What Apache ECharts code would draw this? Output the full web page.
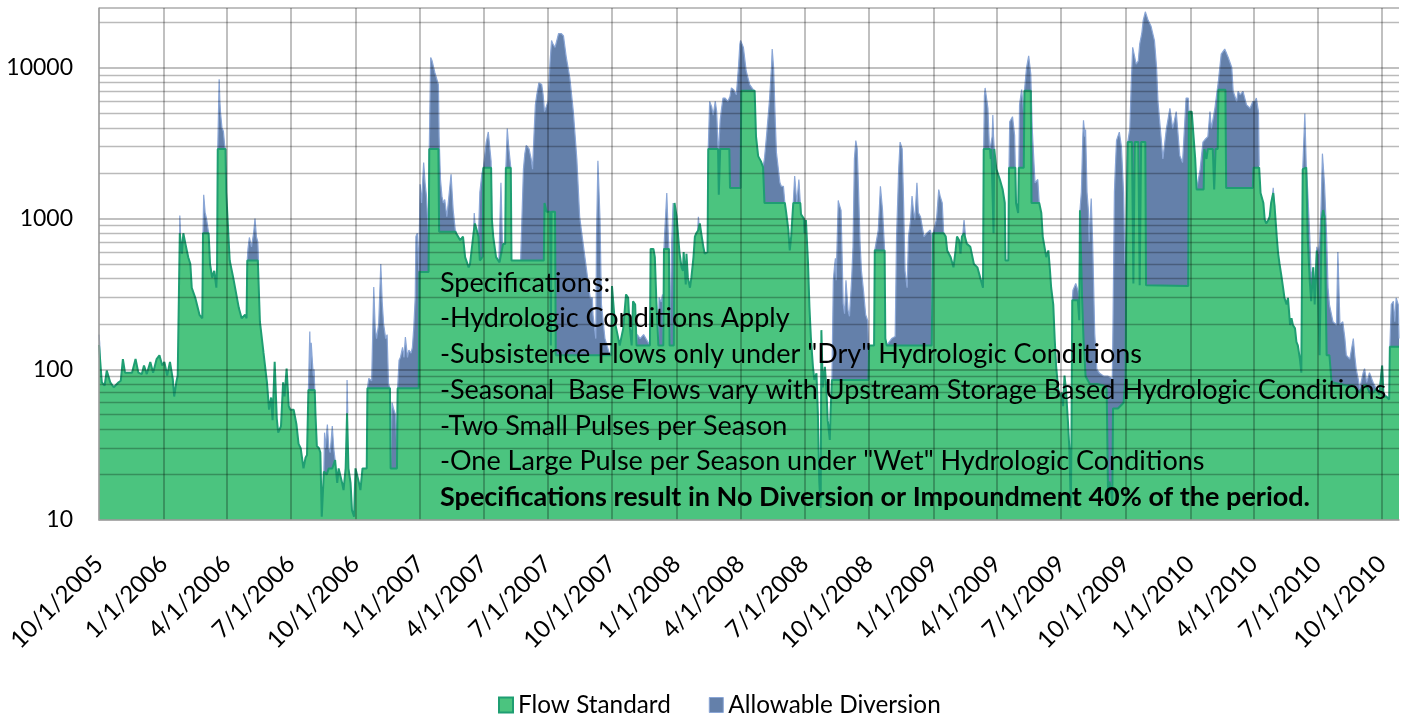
<!DOCTYPE html>
<html>
<head>
<meta charset="utf-8">
<title>Flow Standard and Allowable Diversion</title>
<script src="https://cdn.jsdelivr.net/npm/echarts/dist/echarts.min.js"></script>
<style>
  html, body { margin: 0; padding: 0; background: #fff; }
  #chart { width: 1407px; height: 717px; }
</style>
</head>
<body>
<div id="chart"></div>
<script>
// daily categories from 10/1/2005, values are [dayOffset, cfs]
const startDate = Date.UTC(2005, 9, 1);
const dayCount = 1851;

const tickLabels = ['10/1/2005', '1/1/2006', '4/1/2006', '7/1/2006', '10/1/2006', '1/1/2007', '4/1/2007',
  '7/1/2007', '10/1/2007', '1/1/2008', '4/1/2008', '7/1/2008', '10/1/2008', '1/1/2009', '4/1/2009',
  '7/1/2009', '10/1/2009', '1/1/2010', '4/1/2010', '7/1/2010', '10/1/2010'];
const yTickLabels = [10, 100, 1000, 10000];
const minorGridValues = [20, 30, 40, 50, 60, 70, 80, 90, 200, 300, 400, 500, 600, 700, 800, 900,
  2000, 3000, 4000, 5000, 6000, 7000, 8000, 9000, 20000];

const flowStandard = [
  [0,145],[4,82],[8,78],[11,98],[16,82],[21,76],[28,82],[31,84],[34,117],[37,95],[47,95],[52,117],[56,95],
  [61,93],[64,106],[68,93],[73,112],[77,95],[82,117],[86,124],[90,106],[93,112],[97,91],[101,112],[105,86],
  [107,66],[110,82],[112,91],[114,91],[115,800],[118,585],[120,800],[123,680],[127,555],[130,500],[132,348],
  [137,298],[143,230],[147,218],[148,800],[156,800],[158,500],[161,406],[164,451],[167,348],[168,475],
  [169,2900],[180,2900],[181,1500],[186,527],[191,406],[199,255],[203,218],[208,230],[210,218],[211,527],
  [226,527],[229,207],[234,130],[239,82],[242,54],[245,65],[247,46],[250,112],[253,47],[255,38],[259,42],
  [262,82],[264,66],[267,101],[270,57],[272,54],[277,54],[281,43],[284,32],[287,30],[291,22],[294,26],
  [296,27],[298,73],[307,73],[308,51],[310,31],[313,30],[315,28],[317,10.5],[320,21],[322,21],[324,20],
  [327,22],[332,22],[336,25],[339,17.6],[341,22],[343,22],[346,17.6],[348,15.8],[351,22],[353,51],[355,22],
  [358,17.6],[360,11.6],[363,10.5],[365,22],[367,22],[370,17.6],[372,15.8],[375,22],[381,22],[382,75],
  [414,75],[415,22],[424,22],[425,75],[455,75],[456,443],[469,443],[470,2900],[483,2900],[484,820],
  [507,820],[509,800],[514,720],[518,760],[521,555],[526,475],[528,500],[533,800],[535,930],[540,760],
  [542,527],[546,560],[547,2180],[558,2180],[559,1000],[561,760],[565,555],[570,513],[575,680],[578,680],
  [579,2180],[586,2180],[587,527],[633,527],[634,1270],[637,1110],[642,1110],[643,144],[644,1110],
  [649,1110],[650,124],[729,124],[730,357],[734,207],[737,178],[741,144],[746,187],[750,314],[753,298],
  [755,197],[758,144],[760,283],[763,269],[765,144],[784,144],[785,630],[789,630],[791,555],[793,298],
  [796,144],[803,144],[804,630],[811,630],[812,144],[818,144],[819,1270],[822,1030],[826,600],[829,475],
  [831,451],[832,600],[835,366],[836,585],[838,406],[841,348],[843,406],[846,555],[848,760],[850,800],
  [853,840],[855,930],[857,800],[860,650],[862,585],[866,600],[867,2900],[881,2900],[882,1440],[884,2900],
  [897,2900],[898,1600],[913,1600],[914,7070],[933,7070],[935,3500],[938,2600],[942,2400],[945,2200],
  [947,1270],[976,1270],[978,1090],[981,840],[983,615],[985,760],[988,1270],[998,1270],[999,1070],
  [1003,1000],[1004,800],[1006,980],[1009,506],[1011,260],[1013,164],[1016,104],[1018,85],[1021,94],
  [1023,51],[1025,18],[1027,12],[1028,182],[1030,76],[1033,104],[1035,76],[1037,46],[1040,34],[1041,51],
  [1043,85],[1095,85],[1096,144],[1103,144],[1104,617],[1111,615],[1118,615],[1119,160],[1121,144],
  [1185,144],[1187,800],[1202,800],[1205,760],[1207,615],[1212,555],[1216,475],[1219,615],[1221,760],
  [1224,720],[1226,585],[1228,760],[1231,800],[1235,680],[1240,650],[1245,500],[1250,475],[1254,406],
  [1258,348],[1259,2900],[1268,2900],[1269,2490],[1270,2900],[1272,2900],[1273,800],[1274,2900],
  [1276,2900],[1277,2130],[1279,2130],[1282,1820],[1286,1560],[1289,1270],[1290,527],[1294,527],
  [1295,2180],[1304,2180],[1305,1270],[1308,1090],[1309,2180],[1316,2180],[1317,7070],[1326,7070],
  [1327,1270],[1338,1270],[1341,1090],[1343,760],[1346,630],[1348,555],[1351,615],[1353,475],[1355,348],
  [1358,269],[1360,160],[1362,106],[1365,74],[1367,66],[1370,70],[1372,57],[1374,91],[1376,74],[1379,44],
  [1381,29],[1383,12],[1384,40],[1385,287],[1393,287],[1395,212],[1396,1135],[1398,1135],[1399,300],
  [1401,160],[1404,90],[1410,80],[1420,80],[1430,78],[1434,74],[1436,14],[1438,18],[1440,16],[1442,13],
  [1443,55],[1450,55],[1458,60],[1461,90],[1462,718],[1464,3220],[1470,3220],[1472,371],[1474,3220],
  [1479,3220],[1481,361],[1483,3220],[1489,3220],[1490,361],[1550,357],[1551,5130],[1555,5130],
  [1560,2490],[1562,1560],[1572,1560],[1573,2900],[1576,2490],[1578,2900],[1585,2900],[1587,1560],
  [1589,2900],[1592,2900],[1593,7180],[1603,7180],[1604,1600],[1642,1600],[1643,2180],[1651,2180],
  [1653,1480],[1657,1270],[1659,980],[1661,930],[1664,980],[1666,1030],[1668,1270],[1671,1480],
  [1673,1200],[1676,760],[1678,585],[1680,500],[1683,406],[1685,348],[1687,298],[1690,269],[1692,298],
  [1695,197],[1697,218],[1699,197],[1702,187],[1704,152],[1706,144],[1709,117],[1711,95],[1713,2130],
  [1718,2180],[1720,760],[1723,386],[1725,283],[1728,475],[1730,269],[1733,615],[1735,298],[1737,124],
  [1740,980],[1742,1140],[1744,1030],[1747,124],[1751,124],[1754,82],[1756,80],[1766,80],[1775,78],
  [1785,78],[1794,70],[1799,78],[1804,78],[1808,70],[1813,70],[1818,74],[1822,68],[1826,106],[1828,66],
  [1832,66],[1836,63],[1837,141],[1850,141]
];

// top of the stacked "Allowable Diversion" band; null breaks where it equals the flow standard
const diversionTop = [
  [0,170],[1,150],[2,100],[4,82],[5,null],
  [114,91],[115,1050],[116,800],[117,null],
  [148,800],[149,1440],[151,1100],[153,1000],[156,800],[157,null],
  [169,2900],[170,5000],[171,8400],[172,6000],[173,5000],[175,4000],[177,3800],[179,3000],[180,2900],[181,null],
  [211,527],[212,630],[214,750],[217,650],[220,800],[222,1000],[224,760],[226,700],[227,527],[228,null],
  [298,73],[300,178],[301,100],[302,150],[304,106],[305,90],[306,100],[307,73],[308,null],
  [320,21],[321,38],[322,30],[325,43],[327,30],[329,28],[332,42],[334,30],[336,25],[337,null],
  [352,22],[353,85],[354,51],[355,null],
  [382,75],[384,87],[388,84],[391,352],[393,190],[395,160],[398,200],[401,500],[403,280],[405,200],
  [408,160],[410,170],[412,80],[414,75],[415,22],[417,60],[419,55],[422,50],[424,30],
  [425,75],[427,115],[429,120],[432,140],[434,120],[436,164],[439,120],[441,134],[444,128],[446,140],
  [448,191],[450,300],[451,760],[453,800],[455,451],[456,443],[457,1690],[459,1270],[462,2360],[464,1730],
  [466,1410],[469,760],[470,2900],[472,11740],[474,11150],[478,9300],[483,7760],[484,3500],[486,1800],
  [488,1410],[490,1270],[492,1340],[495,1030],[497,1270],[501,1970],[504,1140],[507,840],[509,800],[510,null],
  [533,800],[534,1090],[535,930],[536,null],
  [540,760],[542,1500],[545,2000],[547,2180],[551,3200],[554,3760],[556,3000],[558,2400],[559,1000],[560,null],
  [569,513],[572,1730],[574,700],[575,680],[576,null],
  [579,2180],[581,3960],[583,3000],[586,2180],[587,null],
  [600,527],[604,2130],[606,2700],[608,3060],[612,2900],[615,2490],[617,2130],[619,3570],[621,5690],
  [623,6640],[626,7960],[628,8170],[630,7760],[632,6640],[634,5130],[636,5130],[639,6000],[642,11150],
  [644,15200],[646,14400],[649,13700],[654,16900],[656,17300],[658,16900],[661,16300],[665,11740],
  [670,8610],[675,5130],[680,2490],[684,1030],[689,680],[694,451],[699,298],[702,298],[703,230],[707,160],
  [708,760],[710,2420],[713,980],[715,269],[720,160],[727,124],[729,124],[730,null],
  [765,144],[766,170],[770,160],[775,170],[780,155],[784,144],[785,null],
  [796,144],[797,300],[800,280],[802,314],[803,144],[804,630],[805,800],[808,1480],[810,800],[811,630],
  [812,144],[815,700],[817,1270],[818,144],[819,null],
  [852,840],[853,1030],[854,900],[855,null],
  [867,2900],[869,5990],[872,5500],[874,4870],[877,6000],[879,5130],[881,2900],[882,3000],[884,4500],
  [886,5400],[888,6300],[891,6310],[895,5990],[898,6500],[900,7370],[903,7180],[907,6640],[910,10060],
  [912,14400],[913,15200],[917,13700],[921,9550],[926,7760],[931,7180],[933,7070],[934,null],
  [945,2200],[947,2500],[950,3570],[954,5990],[957,10060],[958,13350],[960,10060],[962,5000],[964,2760],
  [969,1730],[971,1640],[974,1640],[976,1270],[977,null],
  [988,1270],[990,1920],[992,1920],[993,1270],[996,1820],[998,1270],[999,null],
  [1043,85],[1045,390],[1047,500],[1048,546],[1049,390],[1052,1320],[1053,1260],[1056,1135],[1059,274],
  [1061,234],[1063,390],[1066,245],[1068,225],[1071,390],[1073,648],[1075,2500],[1077,3300],[1079,2900],
  [1081,1500],[1083,700],[1085,450],[1088,330],[1091,230],[1094,210],[1095,144],[1096,null],
  [1104,617],[1106,700],[1109,840],[1112,1640],[1115,1140],[1118,615],[1119,null],
  [1121,144],[1128,160],[1133,165],[1135,760],[1138,2130],[1140,3220],[1143,2900],[1145,1270],[1147,451],
  [1150,348],[1152,760],[1155,980],[1157,1410],[1159,1140],[1161,980],[1164,1730],[1166,1100],[1169,1030],
  [1174,760],[1178,800],[1183,840],[1185,760],[1186,null],
  [1187,800],[1192,1000],[1195,1560],[1197,1410],[1200,1270],[1202,800],[1203,null],
  [1229,760],[1231,980],[1233,780],[1234,null],
  [1259,2900],[1260,6500],[1261,7370],[1263,6310],[1265,5400],[1267,3060],[1268,2900],[1271,3500],
  [1272,4870],[1273,3500],[1274,2900],[1275,null],
  [1295,2180],[1296,4390],[1300,4750],[1303,3570],[1304,2180],[1305,null],
  [1309,2180],[1310,5690],[1313,7180],[1316,5000],[1317,7070],[1320,10060],[1323,12050],[1326,9070],
  [1328,4000],[1332,1730],[1336,1820],[1338,1270],[1339,null],
  [1385,287],[1386,335],[1390,371],[1393,335],[1395,300],[1396,1135],[1398,1500],[1400,3500],[1401,4490],
  [1403,3500],[1404,3900],[1406,1500],[1408,1135],[1409,700],[1411,1100],[1412,1360],[1414,700],[1417,173],
  [1420,100],[1424,94],[1430,90],[1436,90],[1440,88],[1442,85],[1443,200],[1445,1500],[1446,2000],
  [1448,3300],[1452,3750],[1455,3000],[1458,1500],[1460,500],[1462,718],[1464,3220],[1467,3960],
  [1469,8000],[1471,13700],[1474,11740],[1476,10590],[1479,11150],[1481,14400],[1484,17000],[1486,20700],
  [1489,23600],[1493,20700],[1497,19000],[1502,15200],[1505,10060],[1507,5990],[1512,3220],[1514,2490],
  [1519,3960],[1524,5400],[1528,3960],[1533,5130],[1538,2620],[1542,2360],[1547,6310],[1550,6310],
  [1551,5130],[1552,null],
  [1562,1560],[1567,2130],[1571,3220],[1575,3390],[1578,3500],[1581,5130],[1583,3960],[1588,5400],
  [1593,8170],[1597,12360],[1602,13350],[1607,11740],[1612,10060],[1614,7000],[1619,5990],[1621,7000],
  [1624,6640],[1628,7000],[1633,5690],[1638,5400],[1642,5990],[1645,5990],[1647,6310],[1650,5130],
  [1651,2240],[1652,null],
  [1669,1270],[1671,1600],[1673,1200],[1674,null],
  [1713,2130],[1716,4990],[1718,2240],[1720,1560],[1723,760],[1725,406],[1728,475],[1730,300],[1733,650],
  [1735,585],[1737,700],[1739,1140],[1741,2700],[1744,1690],[1747,760],[1749,348],[1751,269],[1756,207],
  [1761,197],[1763,600],[1766,197],[1770,207],[1773,160],[1775,124],[1780,117],[1785,160],[1787,124],
  [1789,101],[1792,86],[1794,74],[1799,95],[1801,101],[1804,82],[1808,95],[1813,82],[1818,74],[1822,70],
  [1826,106],[1828,70],[1832,66],[1836,63],[1837,null],
  [1837,141],[1839,269],[1842,283],[1844,207],[1846,298],[1849,269],[1850,160]
];

const noteLines = [
  'Specifications:',
  '-Hydrologic Conditions Apply',
  '-Subsistence Flows only under "Dry" Hydrologic Conditions',
  '-Seasonal  Base Flows vary with Upstream Storage Based Hydrologic Conditions',
  '-Two Small Pulses per Season',
  '-One Large Pulse per Season under "Wet" Hydrologic Conditions',
  'Specifications result in No Diversion or Impoundment 40% of the period.'
];

const categories = [];
for (let i = 0; i < dayCount; i++) {
  const d = new Date(startDate + i * 86400000);
  categories.push((d.getUTCMonth() + 1) + '/' + d.getUTCDate() + '/' + d.getUTCFullYear());
}
const tickSet = new Set(tickLabels);
const isTick = (idx, val) => tickSet.has(val);

const FONT = 'Lato';
const green = '#4bc47f';
const greenLine = '#1f9e72';
const blue = '#6480aa';
const blueLine = '#8aa6d6';
const gridColor = 'rgba(0,0,0,0.33)';

const chart = echarts.init(document.getElementById('chart'));
chart.setOption({
  animation: false,
  grid: { left: 99, right: 8, top: 8, bottom: 197, outerBoundsMode: 'none' },
  legend: {
    top: 688, left: 493, icon: 'rect', itemWidth: 14, itemHeight: 15, itemGap: 38,
    textStyle: { fontFamily: FONT, fontSize: 24.3, color: '#000' },
    data: [
      { name: 'Flow Standard', itemStyle: { color: green, borderColor: greenLine, borderWidth: 2 } },
      { name: 'Allowable Diversion', itemStyle: { color: blue, borderColor: blueLine, borderWidth: 1 } }
    ]
  },
  xAxis: {
    type: 'category', data: categories, boundaryGap: false, z: 10,
    axisLine: { lineStyle: { color: '#a6a6a6', width: 1.5 } },
    axisTick: { show: false },
    axisLabel: {
      interval: isTick, rotate: 45, margin: 40,
      fontFamily: FONT, fontSize: 24, color: '#000'
    },
    splitLine: { show: true, interval: isTick, lineStyle: { color: gridColor, width: 1.5 } }
  },
  yAxis: {
    type: 'log', logBase: 10, min: 10, max: 25000, z: 10,
    axisLine: { show: true, lineStyle: { color: '#a6a6a6', width: 1.5 } },
    axisTick: { show: false },
    axisLabel: {
      margin: 26, fontFamily: FONT, fontSize: 23, color: '#000',
      formatter: v => {
        const r = Math.round(v);
        return yTickLabels.includes(r) ? String(r) : '';
      }
    },
    splitLine: { show: true, lineStyle: { color: gridColor, width: 1.5 } }
  },
  series: [
    {
      name: 'Allowable Diversion', type: 'line', data: diversionTop, symbol: 'none',
      connectNulls: false, silent: true, z: 2,
      itemStyle: { color: blue },
      lineStyle: { color: blueLine, width: 1.2 },
      areaStyle: { color: blue, opacity: 1 }
    },
    {
      name: 'Flow Standard', type: 'line', data: flowStandard, symbol: 'none', silent: true, z: 3,
      itemStyle: { color: green },
      lineStyle: { color: greenLine, width: 2 },
      areaStyle: { color: green, opacity: 1 },
      markLine: {
        silent: true, symbol: 'none', z: 10, animation: false,
        label: { show: false },
        lineStyle: { color: 'rgba(0,0,0,0.27)', width: 1.3, type: 'solid' },
        data: minorGridValues.map(v => ({ yAxis: v }))
      }
    }
  ],
  graphic: noteLines.map((t, i) => ({
    type: 'text', x: 440, y: 283 + i * 35.7, z: 100, silent: true,
    style: {
      text: t, fill: '#000', verticalAlign: 'middle',
      font: (i === noteLines.length - 1 ? 'bold ' : '') + '27px ' + FONT
    }
  }))
});
</script>
</body>
</html>
